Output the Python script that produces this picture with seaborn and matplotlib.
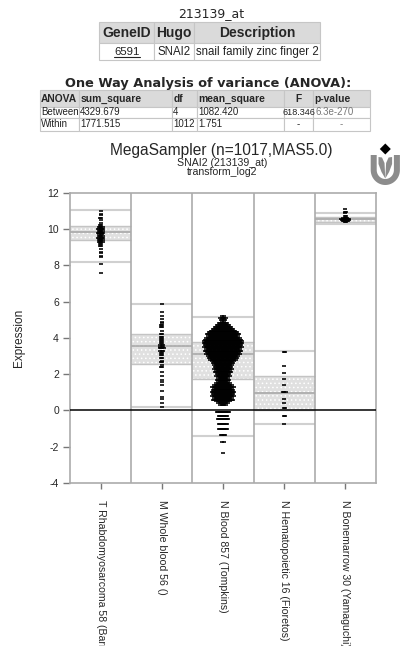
import numpy as np
import pandas as pd
import matplotlib
matplotlib.use("Agg")
import matplotlib.pyplot as plt
from matplotlib.patches import Rectangle, Polygon
import seaborn as sns

# ---- data -------------------------------------------------------------
groups = ["T Rhabdomyosarcoma 58 (Barr)", "M Whole blood 56 ()",
          "N Blood 857 (Tompkins)", "N Hematopoietic 16 (Fioretos)",
          "N Bonemarrow 30 (Yamaguchi)"]

# per-group expression levels and how many samples sit at each level
rhab_levels = [11.0, 10.85, 10.75, 10.62, 10.52, 10.35, 10.2, 10.1, 10.0, 9.9,
               9.8, 9.7, 9.6, 9.5, 9.4, 9.3, 9.2, 9.05, 8.9, 8.75, 8.65, 8.52,
               8.45, 8.07, 7.6]
rhab_counts = [1, 1, 1, 2, 1, 1, 2, 4, 5, 4, 5, 3, 4, 5, 4, 4, 2, 2, 1, 1, 1, 1,
               1, 1, 1]

wb_levels = [5.85, 5.41, 5.20, 5.02, 4.89, 4.80, 4.71, 4.61, 4.40, 4.21, 4.05,
             3.92, 3.80, 3.73, 3.60, 3.50, 3.42, 3.30, 3.18, 3.05, 2.87, 2.75,
             2.65, 2.50, 2.38, 2.13, 1.90, 1.70, 1.55, 1.40, 1.09, 0.76, 0.61,
             0.39, 0.20]
wb_counts = [1, 1, 1, 1, 1, 1, 2, 2, 1, 2, 2, 2, 2, 2, 3, 3, 4, 3, 2, 2, 2, 1,
             2, 1, 2, 1, 1, 1, 1, 1, 1, 1, 1, 1, 1]

blood_levels = [5.2, 5.1, 5.0, 4.9, 4.8, 4.7, 4.6, 4.5, 4.4, 4.3,
                4.2, 4.1, 4.0, 3.9, 3.8, 3.7, 3.6, 3.5, 3.4, 3.3,
                3.2, 3.1, 3.0, 2.9, 2.8, 2.7, 2.6, 2.5, 2.4, 2.3,
                2.2, 2.1, 2.0, 1.9, 1.8, 1.7, 1.6, 1.5, 1.4, 1.3,
                1.2, 1.1, 1.0, 0.9, 0.8, 0.7, 0.6, 0.5, 0.4, 0.3,
                -0.1, -0.3, -0.5, -0.75, -1.0, -1.35, -1.75, -2.35]
blood_counts = [2, 5, 4, 2, 7, 10, 13, 16, 19, 22,
                25, 23, 26, 28, 29, 30, 28, 29, 26, 28,
                25, 26, 23, 22, 20, 17, 16, 14, 13, 14,
                11, 13, 10, 11, 8, 10, 8, 11, 14, 17,
                14, 16, 18, 16, 17, 14, 16, 11, 8, 5,
                10, 7, 9, 7, 7, 4, 2, 1]

hema_levels = [3.22, 2.47, 2.04, 1.73, 1.40, 1.03, 0.63, 0.39, 0.15, -0.29, -0.75]
hema_counts = [2, 1, 1, 1, 1, 3, 1, 1, 2, 2, 1]

bm_levels = [11.08, 10.94, 10.86, 10.70, 10.62, 10.55, 10.50, 10.45, 10.40]
bm_counts = [1, 2, 1, 2, 4, 7, 6, 5, 2]

# summary lines per group: upper line, quartile band, median, lower line
upper = [11.05, 5.85, 5.17, 3.26, 10.86]
q3 = [10.18, 4.23, 3.75, 1.91, 10.65]
median = [9.82, 3.57, 3.09, 0.98, 10.53]
q1 = [9.38, 2.57, 1.71, 0.0, 10.39]
lower = [8.2, 0.17, -1.39, -0.75, 10.30]

yticks = [-4, -2, 0, 2, 4, 6, 8, 10, 12]

gene_header = ["GeneID", "Hugo", "Description"]
gene_row = ["6591", "SNAI2", "snail family zinc finger 2"]

anova_header = ["ANOVA", "sum_square", "df", "mean_square", "F", "p-value"]
anova_rows = [["Between", "4329.679", "4", "1082.420", "618.346", "6.3e-270"],
              ["Within", "1771.515", "1012", "1.751", "-", "-"]]

# ---- style ------------------------------------------------------------
sns.set_style("white")
plt.rcParams["font.family"] = ["Liberation Sans", "DejaVu Sans"]
plt.rcParams["hatch.color"] = "#eeeeee"
plt.rcParams["hatch.linewidth"] = 0.6

W, H = 403, 646
fig = plt.figure(figsize=(W / 100, H / 100), dpi=100)
fig.patch.set_facecolor("white")


def fx(x):
    return x / W


def fy(y):
    return 1 - y / H


def cell(x0, y0, x1, y1, fill):
    fig.add_artist(Rectangle((fx(x0), fy(y1)), fx(x1) - fx(x0), fy(y0) - fy(y1),
                             transform=fig.transFigure, facecolor=fill,
                             edgecolor="#c6c6c6", lw=0.8))


# ---- gene table -------------------------------------------------------
fig.text(fx(211), fy(14), "213139_at", family="DejaVu Sans", fontsize=9,
         ha="center", va="center")
gx = [99, 154, 194, 320]
gy = [22, 43, 60]
for j in range(3):
    cell(gx[j], gy[0], gx[j + 1], gy[1], "#dadada")
    cell(gx[j], gy[1], gx[j + 1], gy[2], "white")
    fig.text(fx((gx[j] + gx[j + 1]) / 2), fy((gy[0] + gy[1]) / 2 + 0.5),
             gene_header[j], fontsize=10, fontweight="bold", ha="center",
             va="center")
fig.text(fx(127), fy(52), gene_row[0], fontsize=8.2, ha="center",
         va="center", color="#222222")
fig.add_artist(plt.Line2D([fx(114), fx(140)], [fy(57), fy(57)],
                          transform=fig.transFigure, color="#222222", lw=0.8))
fig.text(fx(157), fy(52), gene_row[1], fontsize=8.3, ha="left", va="center",
         color="#222222")
fig.text(fx(196), fy(52), gene_row[2], fontsize=8.3, ha="left", va="center",
         color="#222222")

# ---- ANOVA table ------------------------------------------------------
fig.text(fx(208), fy(84), "One Way Analysis of variance (ANOVA):",
         family="DejaVu Sans", fontweight="bold", fontsize=9.3,
         ha="center", va="center")
ax_ = [40, 79, 172, 197, 284, 313, 370]
ay_ = [90, 106.5, 118.3, 130.5]
for j in range(6):
    cell(ax_[j], ay_[0], ax_[j + 1], ay_[1], "#dadada")
    for r in range(2):
        cell(ax_[j], ay_[r + 1], ax_[j + 1], ay_[r + 2], "white")
for j, h in enumerate(anova_header):
    if h == "F":
        fig.text(fx((ax_[j] + ax_[j + 1]) / 2), fy(98.5), h, fontsize=7.4,
                 fontweight="bold", ha="center", va="center")
    else:
        fig.text(fx(ax_[j] + 1.2), fy(98.5), h, fontsize=7.4,
                 fontweight="bold", ha="left", va="center")
for r, row in enumerate(anova_rows):
    yc = (ay_[r + 1] + ay_[r + 2]) / 2
    for j, v in enumerate(row):
        col = "#777777" if j == 5 else "#222222"
        if v == "-":
            fig.text(fx((ax_[j] + ax_[j + 1]) / 2), fy(yc), v, fontsize=7.0,
                     ha="center", va="center", color=col)
        elif j == 4:
            fig.text(fx((ax_[j] + ax_[j + 1]) / 2), fy(yc), v, fontsize=6.6,
                     ha="center", va="center", color=col)
        else:
            fig.text(fx(ax_[j] + (2.0 if j == 5 else 1.0)), fy(yc), v,
                     fontsize=7.0, ha="left", va="center", color=col)

# ---- titles -----------------------------------------------------------
fig.text(fx(221), fy(150.5), "MegaSampler (n=1017,MAS5.0)", fontsize=11.2,
         ha="center", va="center")
fig.text(fx(222), fy(162.5), "SNAI2 (213139_at)", fontsize=7.6,
         ha="center", va="center")
fig.text(fx(222), fy(172), "transform_log2", fontsize=7.6,
         ha="center", va="center")

# ---- logo -------------------------------------------------------------
lg = fig.add_axes([fx(369), fy(187), fx(33), 44 / H])
lg.set_xlim(369, 402)
lg.set_ylim(187, 143)
lg.axis("off")
cx, cy = 385.3, 170.0
t_o = np.linspace(0, np.pi, 40)
outer = [(cx - 14.6 * np.cos(a), cy + 15 * np.sin(a)) for a in t_o]
inner = [(cx - 8.6 * np.cos(a), cy + 9 * np.sin(a)) for a in t_o[::-1]]
u_pts = [(cx - 14.6, 155)] + outer + [(cx + 14.6, 155), (cx + 8.6, 155)] + inner + [(cx - 8.6, 155)]
lg.add_patch(Polygon(u_pts, closed=True, facecolor="#8c8c8c", edgecolor="none"))
left_petal = [(378.5, 157), (382, 157.5), (384.5, 163), (cx, 178.5), (381.5, 172), (378.5, 164)]
right_petal = [(2 * cx - x, y) for x, y in left_petal]
lg.add_patch(Polygon(left_petal, closed=True, facecolor="#8c8c8c", edgecolor="none"))
lg.add_patch(Polygon(right_petal, closed=True, facecolor="#8c8c8c", edgecolor="none"))
lg.add_patch(Polygon([(cx, 143.5), (cx + 5.5, 149), (cx, 154.5), (cx - 5.5, 149)],
                     closed=True, facecolor="black", edgecolor="none"))

# ---- main plot --------------------------------------------------------
ax = fig.add_axes([fx(70), fy(483), (376 - 70) / W, (483 - 192.7) / H])
ax.set_xlim(-0.5, 4.5)
ax.set_ylim(-4, 12)

for i in range(len(groups)):
    ax.add_patch(Rectangle((i - 0.5, q1[i]), 1, q3[i] - q1[i],
                           facecolor="#e0e0e0", edgecolor=None, hatch="....",
                           lw=0, zorder=1))
    ax.hlines([q1[i], q3[i]], i - 0.5, i + 0.5, colors="#c4c4c4", lw=1.0, zorder=2)
    ax.hlines(median[i], i - 0.5, i + 0.5, colors="#a8a8a8", lw=1.2, zorder=2)
    ax.hlines([upper[i], lower[i]], i - 0.5, i + 0.5, colors="#d0d0d0", lw=1.5,
              zorder=2)

for xb in [0.5, 1.5, 2.5, 3.5]:
    ax.axvline(xb, color="#ababab", lw=1.2, zorder=2)
ax.axhline(0, color="black", lw=1.1, zorder=3)

# spread samples sharing a level side by side around the group centre
dx = 1.33 * 5 / 306
rows = []
for gi, (lv, ct) in enumerate([(rhab_levels, rhab_counts), (wb_levels, wb_counts),
                               (blood_levels, blood_counts),
                               (hema_levels, hema_counts), (bm_levels, bm_counts)]):
    for v, n in zip(lv, ct):
        for k in range(n):
            rows.append({"group": groups[gi], "x": gi + (k - (n - 1) / 2) * dx,
                         "value": v})
pts = pd.DataFrame(rows)
sns.scatterplot(data=pts, x="x", y="value", marker="_", s=9, linewidth=1.15,
                color="black", legend=False, ax=ax, zorder=4)

for sp in ax.spines.values():
    sp.set_color("#ababab")
    sp.set_linewidth(1.2)
ax.set_xticks(range(len(groups)))
ax.set_xticklabels(groups, rotation=-90, fontsize=7.6, va="top", ha="center")
ax.set_yticks(yticks)
ax.set_yticklabels([str(v) for v in yticks], fontsize=7.5)
ax.tick_params(axis="x", length=4, width=1, color="#777777", pad=8,
               bottom=True, direction="out")
ax.tick_params(axis="y", length=5, width=1, color="#777777", pad=3,
               left=True, direction="out")
ax.set_xlabel("")
ax.set_ylabel("")
fig.text(fx(19), fy(338), "Expression", fontsize=8.5, rotation=90,
         ha="center", va="center")

fig.savefig("out.png", dpi=100, facecolor="white")
